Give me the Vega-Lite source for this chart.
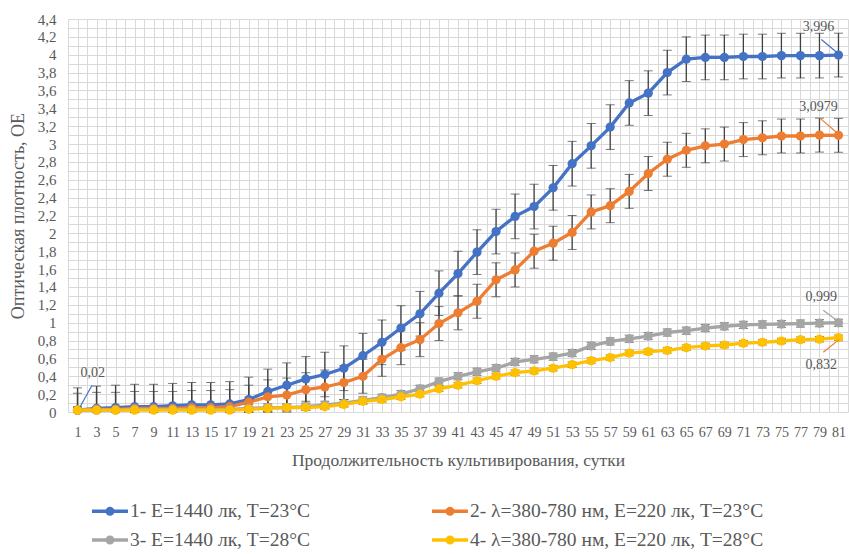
{
  "$schema": "https://vega.github.io/schema/vega-lite/v6.json",
  "autosize": {"type": "none"},
  "padding": {"left": 68, "top": 19, "right": 1, "bottom": 142},
  "width": 780,
  "height": 393,
  "background": "white",
  "config": {
    "font": "Liberation Serif",
    "view": {"stroke": null},
    "style": {"guide-label": {"font": "Liberation Serif"}, "guide-title": {"font": "Liberation Serif"}},
    "axis": {"labelColor": "#595959", "titleColor": "#595959", "titleFontWeight": "normal", "gridColor": "#d9d9d9", "gridWidth": 1, "grid": true, "domain": false, "ticks": false, "tickSize": 0, "labelOverlap": false, "tickCount": 200, "labelFont": "Liberation Serif", "titleFont": "Liberation Serif"},
    "legend": {"labelFont": "Liberation Serif"}
  },
  "datasets": {
    "d": [
      {"x":1,"s":"1- E=1440 лк, T=23°C","v":0.02,"e":0.25},{"x":3,"s":"1- E=1440 лк, T=23°C","v":0.04,"e":0.25},{"x":5,"s":"1- E=1440 лк, T=23°C","v":0.05,"e":0.25},{"x":7,"s":"1- E=1440 лк, T=23°C","v":0.06,"e":0.25},{"x":9,"s":"1- E=1440 лк, T=23°C","v":0.06,"e":0.25},{"x":11,"s":"1- E=1440 лк, T=23°C","v":0.07,"e":0.25},{"x":13,"s":"1- E=1440 лк, T=23°C","v":0.08,"e":0.25},{"x":15,"s":"1- E=1440 лк, T=23°C","v":0.08,"e":0.25},{"x":17,"s":"1- E=1440 лк, T=23°C","v":0.09,"e":0.25},{"x":19,"s":"1- E=1440 лк, T=23°C","v":0.14,"e":0.25},{"x":21,"s":"1- E=1440 лк, T=23°C","v":0.23,"e":0.25},{"x":23,"s":"1- E=1440 лк, T=23°C","v":0.30,"e":0.25},{"x":25,"s":"1- E=1440 лк, T=23°C","v":0.37,"e":0.25},{"x":27,"s":"1- E=1440 лк, T=23°C","v":0.42,"e":0.25},{"x":29,"s":"1- E=1440 лк, T=23°C","v":0.49,"e":0.25},{"x":31,"s":"1- E=1440 лк, T=23°C","v":0.63,"e":0.25},{"x":33,"s":"1- E=1440 лк, T=23°C","v":0.78,"e":0.25},{"x":35,"s":"1- E=1440 лк, T=23°C","v":0.94,"e":0.25},{"x":37,"s":"1- E=1440 лк, T=23°C","v":1.10,"e":0.25},{"x":39,"s":"1- E=1440 лк, T=23°C","v":1.33,"e":0.25},{"x":41,"s":"1- E=1440 лк, T=23°C","v":1.55,"e":0.25},{"x":43,"s":"1- E=1440 лк, T=23°C","v":1.79,"e":0.25},{"x":45,"s":"1- E=1440 лк, T=23°C","v":2.02,"e":0.25},{"x":47,"s":"1- E=1440 лк, T=23°C","v":2.19,"e":0.25},{"x":49,"s":"1- E=1440 лк, T=23°C","v":2.30,"e":0.25},{"x":51,"s":"1- E=1440 лк, T=23°C","v":2.51,"e":0.25},{"x":53,"s":"1- E=1440 лк, T=23°C","v":2.78,"e":0.25},{"x":55,"s":"1- E=1440 лк, T=23°C","v":2.98,"e":0.25},{"x":57,"s":"1- E=1440 лк, T=23°C","v":3.19,"e":0.25},{"x":59,"s":"1- E=1440 лк, T=23°C","v":3.46,"e":0.25},{"x":61,"s":"1- E=1440 лк, T=23°C","v":3.57,"e":0.25},{"x":63,"s":"1- E=1440 лк, T=23°C","v":3.80,"e":0.25},{"x":65,"s":"1- E=1440 лк, T=23°C","v":3.95,"e":0.25},{"x":67,"s":"1- E=1440 лк, T=23°C","v":3.97,"e":0.25},{"x":69,"s":"1- E=1440 лк, T=23°C","v":3.97,"e":0.25},{"x":71,"s":"1- E=1440 лк, T=23°C","v":3.98,"e":0.25},{"x":73,"s":"1- E=1440 лк, T=23°C","v":3.98,"e":0.25},{"x":75,"s":"1- E=1440 лк, T=23°C","v":3.99,"e":0.25},{"x":77,"s":"1- E=1440 лк, T=23°C","v":3.99,"e":0.25},{"x":79,"s":"1- E=1440 лк, T=23°C","v":3.99,"e":0.25},{"x":81,"s":"1- E=1440 лк, T=23°C","v":3.996,"e":0.245},
      {"x":1,"s":"2- λ=380-780 нм, E=220 лк, T=23°C","v":0.02,"e":0.19},{"x":3,"s":"2- λ=380-780 нм, E=220 лк, T=23°C","v":0.03,"e":0.19},{"x":5,"s":"2- λ=380-780 нм, E=220 лк, T=23°C","v":0.03,"e":0.19},{"x":7,"s":"2- λ=380-780 нм, E=220 лк, T=23°C","v":0.04,"e":0.19},{"x":9,"s":"2- λ=380-780 нм, E=220 лк, T=23°C","v":0.04,"e":0.19},{"x":11,"s":"2- λ=380-780 нм, E=220 лк, T=23°C","v":0.04,"e":0.19},{"x":13,"s":"2- λ=380-780 нм, E=220 лк, T=23°C","v":0.05,"e":0.19},{"x":15,"s":"2- λ=380-780 нм, E=220 лк, T=23°C","v":0.05,"e":0.19},{"x":17,"s":"2- λ=380-780 нм, E=220 лк, T=23°C","v":0.06,"e":0.19},{"x":19,"s":"2- λ=380-780 нм, E=220 лк, T=23°C","v":0.11,"e":0.19},{"x":21,"s":"2- λ=380-780 нм, E=220 лк, T=23°C","v":0.17,"e":0.19},{"x":23,"s":"2- λ=380-780 нм, E=220 лк, T=23°C","v":0.19,"e":0.19},{"x":25,"s":"2- λ=380-780 нм, E=220 лк, T=23°C","v":0.25,"e":0.19},{"x":27,"s":"2- λ=380-780 нм, E=220 лк, T=23°C","v":0.28,"e":0.19},{"x":29,"s":"2- λ=380-780 нм, E=220 лк, T=23°C","v":0.33,"e":0.19},{"x":31,"s":"2- λ=380-780 нм, E=220 лк, T=23°C","v":0.40,"e":0.19},{"x":33,"s":"2- λ=380-780 нм, E=220 лк, T=23°C","v":0.59,"e":0.19},{"x":35,"s":"2- λ=380-780 нм, E=220 лк, T=23°C","v":0.72,"e":0.19},{"x":37,"s":"2- λ=380-780 нм, E=220 лк, T=23°C","v":0.81,"e":0.19},{"x":39,"s":"2- λ=380-780 нм, E=220 лк, T=23°C","v":0.99,"e":0.19},{"x":41,"s":"2- λ=380-780 нм, E=220 лк, T=23°C","v":1.11,"e":0.19},{"x":43,"s":"2- λ=380-780 нм, E=220 лк, T=23°C","v":1.24,"e":0.19},{"x":45,"s":"2- λ=380-780 нм, E=220 лк, T=23°C","v":1.48,"e":0.19},{"x":47,"s":"2- λ=380-780 нм, E=220 лк, T=23°C","v":1.59,"e":0.19},{"x":49,"s":"2- λ=380-780 нм, E=220 лк, T=23°C","v":1.80,"e":0.19},{"x":51,"s":"2- λ=380-780 нм, E=220 лк, T=23°C","v":1.89,"e":0.19},{"x":53,"s":"2- λ=380-780 нм, E=220 лк, T=23°C","v":2.01,"e":0.19},{"x":55,"s":"2- λ=380-780 нм, E=220 лк, T=23°C","v":2.24,"e":0.19},{"x":57,"s":"2- λ=380-780 нм, E=220 лк, T=23°C","v":2.31,"e":0.19},{"x":59,"s":"2- λ=380-780 нм, E=220 лк, T=23°C","v":2.47,"e":0.19},{"x":61,"s":"2- λ=380-780 нм, E=220 лк, T=23°C","v":2.67,"e":0.19},{"x":63,"s":"2- λ=380-780 нм, E=220 лк, T=23°C","v":2.83,"e":0.19},{"x":65,"s":"2- λ=380-780 нм, E=220 лк, T=23°C","v":2.93,"e":0.19},{"x":67,"s":"2- λ=380-780 нм, E=220 лк, T=23°C","v":2.98,"e":0.19},{"x":69,"s":"2- λ=380-780 нм, E=220 лк, T=23°C","v":3.00,"e":0.19},{"x":71,"s":"2- λ=380-780 нм, E=220 лк, T=23°C","v":3.05,"e":0.19},{"x":73,"s":"2- λ=380-780 нм, E=220 лк, T=23°C","v":3.07,"e":0.19},{"x":75,"s":"2- λ=380-780 нм, E=220 лк, T=23°C","v":3.09,"e":0.19},{"x":77,"s":"2- λ=380-780 нм, E=220 лк, T=23°C","v":3.09,"e":0.19},{"x":79,"s":"2- λ=380-780 нм, E=220 лк, T=23°C","v":3.10,"e":0.19},{"x":81,"s":"2- λ=380-780 нм, E=220 лк, T=23°C","v":3.0979,"e":0.19},
      {"x":1,"s":"3- E=1440 лк, T=28°C","v":0.02,"e":0.04},{"x":3,"s":"3- E=1440 лк, T=28°C","v":0.02,"e":0.04},{"x":5,"s":"3- E=1440 лк, T=28°C","v":0.02,"e":0.04},{"x":7,"s":"3- E=1440 лк, T=28°C","v":0.03,"e":0.04},{"x":9,"s":"3- E=1440 лк, T=28°C","v":0.03,"e":0.04},{"x":11,"s":"3- E=1440 лк, T=28°C","v":0.03,"e":0.04},{"x":13,"s":"3- E=1440 лк, T=28°C","v":0.03,"e":0.04},{"x":15,"s":"3- E=1440 лк, T=28°C","v":0.03,"e":0.04},{"x":17,"s":"3- E=1440 лк, T=28°C","v":0.03,"e":0.04},{"x":19,"s":"3- E=1440 лк, T=28°C","v":0.04,"e":0.04},{"x":21,"s":"3- E=1440 лк, T=28°C","v":0.05,"e":0.04},{"x":23,"s":"3- E=1440 лк, T=28°C","v":0.05,"e":0.04},{"x":25,"s":"3- E=1440 лк, T=28°C","v":0.06,"e":0.04},{"x":27,"s":"3- E=1440 лк, T=28°C","v":0.08,"e":0.04},{"x":29,"s":"3- E=1440 лк, T=28°C","v":0.10,"e":0.04},{"x":31,"s":"3- E=1440 лк, T=28°C","v":0.13,"e":0.04},{"x":33,"s":"3- E=1440 лк, T=28°C","v":0.16,"e":0.04},{"x":35,"s":"3- E=1440 лк, T=28°C","v":0.20,"e":0.04},{"x":37,"s":"3- E=1440 лк, T=28°C","v":0.26,"e":0.04},{"x":39,"s":"3- E=1440 лк, T=28°C","v":0.34,"e":0.04},{"x":41,"s":"3- E=1440 лк, T=28°C","v":0.40,"e":0.04},{"x":43,"s":"3- E=1440 лк, T=28°C","v":0.45,"e":0.04},{"x":45,"s":"3- E=1440 лк, T=28°C","v":0.49,"e":0.04},{"x":47,"s":"3- E=1440 лк, T=28°C","v":0.56,"e":0.04},{"x":49,"s":"3- E=1440 лк, T=28°C","v":0.59,"e":0.04},{"x":51,"s":"3- E=1440 лк, T=28°C","v":0.62,"e":0.04},{"x":53,"s":"3- E=1440 лк, T=28°C","v":0.66,"e":0.04},{"x":55,"s":"3- E=1440 лк, T=28°C","v":0.74,"e":0.04},{"x":57,"s":"3- E=1440 лк, T=28°C","v":0.79,"e":0.04},{"x":59,"s":"3- E=1440 лк, T=28°C","v":0.82,"e":0.04},{"x":61,"s":"3- E=1440 лк, T=28°C","v":0.85,"e":0.04},{"x":63,"s":"3- E=1440 лк, T=28°C","v":0.89,"e":0.04},{"x":65,"s":"3- E=1440 лк, T=28°C","v":0.91,"e":0.04},{"x":67,"s":"3- E=1440 лк, T=28°C","v":0.94,"e":0.04},{"x":69,"s":"3- E=1440 лк, T=28°C","v":0.96,"e":0.04},{"x":71,"s":"3- E=1440 лк, T=28°C","v":0.975,"e":0.04},{"x":73,"s":"3- E=1440 лк, T=28°C","v":0.98,"e":0.04},{"x":75,"s":"3- E=1440 лк, T=28°C","v":0.985,"e":0.04},{"x":77,"s":"3- E=1440 лк, T=28°C","v":0.99,"e":0.04},{"x":79,"s":"3- E=1440 лк, T=28°C","v":0.995,"e":0.04},{"x":81,"s":"3- E=1440 лк, T=28°C","v":0.999,"e":0.04},
      {"x":1,"s":"4- λ=380-780 нм, E=220 лк, T=28°C","v":0.02,"e":0.03},{"x":3,"s":"4- λ=380-780 нм, E=220 лк, T=28°C","v":0.02,"e":0.03},{"x":5,"s":"4- λ=380-780 нм, E=220 лк, T=28°C","v":0.02,"e":0.03},{"x":7,"s":"4- λ=380-780 нм, E=220 лк, T=28°C","v":0.02,"e":0.03},{"x":9,"s":"4- λ=380-780 нм, E=220 лк, T=28°C","v":0.02,"e":0.03},{"x":11,"s":"4- λ=380-780 нм, E=220 лк, T=28°C","v":0.02,"e":0.03},{"x":13,"s":"4- λ=380-780 нм, E=220 лк, T=28°C","v":0.02,"e":0.03},{"x":15,"s":"4- λ=380-780 нм, E=220 лк, T=28°C","v":0.02,"e":0.03},{"x":17,"s":"4- λ=380-780 нм, E=220 лк, T=28°C","v":0.02,"e":0.03},{"x":19,"s":"4- λ=380-780 нм, E=220 лк, T=28°C","v":0.03,"e":0.03},{"x":21,"s":"4- λ=380-780 нм, E=220 лк, T=28°C","v":0.04,"e":0.03},{"x":23,"s":"4- λ=380-780 нм, E=220 лк, T=28°C","v":0.05,"e":0.03},{"x":25,"s":"4- λ=380-780 нм, E=220 лк, T=28°C","v":0.05,"e":0.03},{"x":27,"s":"4- λ=380-780 нм, E=220 лк, T=28°C","v":0.06,"e":0.03},{"x":29,"s":"4- λ=380-780 нм, E=220 лк, T=28°C","v":0.085,"e":0.03},{"x":31,"s":"4- λ=380-780 нм, E=220 лк, T=28°C","v":0.12,"e":0.03},{"x":33,"s":"4- λ=380-780 нм, E=220 лк, T=28°C","v":0.14,"e":0.03},{"x":35,"s":"4- λ=380-780 нм, E=220 лк, T=28°C","v":0.17,"e":0.03},{"x":37,"s":"4- λ=380-780 нм, E=220 лк, T=28°C","v":0.20,"e":0.03},{"x":39,"s":"4- λ=380-780 нм, E=220 лк, T=28°C","v":0.26,"e":0.03},{"x":41,"s":"4- λ=380-780 нм, E=220 лк, T=28°C","v":0.30,"e":0.03},{"x":43,"s":"4- λ=380-780 нм, E=220 лк, T=28°C","v":0.35,"e":0.03},{"x":45,"s":"4- λ=380-780 нм, E=220 лк, T=28°C","v":0.40,"e":0.03},{"x":47,"s":"4- λ=380-780 нм, E=220 лк, T=28°C","v":0.44,"e":0.03},{"x":49,"s":"4- λ=380-780 нм, E=220 лк, T=28°C","v":0.46,"e":0.03},{"x":51,"s":"4- λ=380-780 нм, E=220 лк, T=28°C","v":0.49,"e":0.03},{"x":53,"s":"4- λ=380-780 нм, E=220 лк, T=28°C","v":0.53,"e":0.03},{"x":55,"s":"4- λ=380-780 нм, E=220 лк, T=28°C","v":0.575,"e":0.03},{"x":57,"s":"4- λ=380-780 нм, E=220 лк, T=28°C","v":0.61,"e":0.03},{"x":59,"s":"4- λ=380-780 нм, E=220 лк, T=28°C","v":0.66,"e":0.03},{"x":61,"s":"4- λ=380-780 нм, E=220 лк, T=28°C","v":0.675,"e":0.03},{"x":63,"s":"4- λ=380-780 нм, E=220 лк, T=28°C","v":0.69,"e":0.03},{"x":65,"s":"4- λ=380-780 нм, E=220 лк, T=28°C","v":0.72,"e":0.03},{"x":67,"s":"4- λ=380-780 нм, E=220 лк, T=28°C","v":0.74,"e":0.03},{"x":69,"s":"4- λ=380-780 нм, E=220 лк, T=28°C","v":0.75,"e":0.03},{"x":71,"s":"4- λ=380-780 нм, E=220 лк, T=28°C","v":0.77,"e":0.03},{"x":73,"s":"4- λ=380-780 нм, E=220 лк, T=28°C","v":0.78,"e":0.03},{"x":75,"s":"4- λ=380-780 нм, E=220 лк, T=28°C","v":0.795,"e":0.03},{"x":77,"s":"4- λ=380-780 нм, E=220 лк, T=28°C","v":0.81,"e":0.03},{"x":79,"s":"4- λ=380-780 нм, E=220 лк, T=28°C","v":0.815,"e":0.03},{"x":81,"s":"4- λ=380-780 нм, E=220 лк, T=28°C","v":0.832,"e":0.03}
    ],
    "labels": [
      {"t":"0,02","tx":2.6,"ty":0.44,"x1":1.26,"y1":0.056,"x2":2.53,"y2":0.30,"s":"1- E=1440 лк, T=23°C"},
      {"t":"3,996","tx":78.9,"ty":4.31,"x1":79.2,"y1":4.17,"x2":80.9,"y2":4.02,"s":"1- E=1440 лк, T=23°C"},
      {"t":"3,0979","tx":78.9,"ty":3.415,"x1":79.05,"y1":3.29,"x2":80.9,"y2":3.12,"s":"2- λ=380-780 нм, E=220 лк, T=23°C"},
      {"t":"0,999","tx":79.2,"ty":1.29,"x1":79.4,"y1":1.14,"x2":80.9,"y2":1.02,"s":"3- E=1440 лк, T=28°C"},
      {"t":"0,832","tx":79.2,"ty":0.526,"x1":79.4,"y1":0.67,"x2":81.05,"y2":0.81,"s":"2- λ=380-780 нм, E=220 лк, T=23°C"}
    ]
  },
  "layer": [
    {
      "data": {"name": "d"},
      "mark": {"type": "line", "strokeWidth": 0, "opacity": 0},
      "encoding": {
        "x": {"field": "x", "type": "quantitative", "scale": {"domain": [0, 82], "nice": false, "zero": false},
          "axis": {"values": [0,1,2,3,4,5,6,7,8,9,10,11,12,13,14,15,16,17,18,19,20,21,22,23,24,25,26,27,28,29,30,31,32,33,34,35,36,37,38,39,40,41,42,43,44,45,46,47,48,49,50,51,52,53,54,55,56,57,58,59,60,61,62,63,64,65,66,67,68,69,70,71,72,73,74,75,76,77,78,79,80,81,82],
            "tickCount": 200, "grid": true, "labelExpr": "datum.value % 2 == 1 ? datum.value : ''", "labelOverlap": false, "labelFontSize": 14, "labelPadding": 13, "labelFlush": false,
            "title": "Продолжительность культивирования, сутки", "titleFontSize": 17.5, "titlePadding": 12}},
        "y": {"field": "v", "type": "quantitative", "scale": {"domain": [0, 4.4], "nice": false, "zero": true, "clamp": true},
          "axis": {"values": [0,0.1,0.2,0.3,0.4,0.5,0.6,0.7,0.8,0.9,1,1.1,1.2,1.3,1.4,1.5,1.6,1.7,1.8,1.9,2,2.1,2.2,2.3,2.4,2.5,2.6,2.7,2.8,2.9,3,3.1,3.2,3.3,3.4,3.5,3.6,3.7,3.8,3.9,4,4.1,4.2,4.3,4.4],
            "tickCount": 200, "grid": true, "labelExpr": "round(datum.value*10) % 2 == 0 ? replace(format(datum.value, '~g'), '.', ',') : ''", "labelOverlap": false, "labelFontSize": 15, "labelPadding": 12, "labelFlush": false,
            "title": "Оптическая плотность, ОЕ", "titleFontSize": 18, "titlePadding": 10}},
        "detail": {"field": "s"}
      }
    },
    {
      "data": {"name": "d"},
      "mark": {"type": "errorbar", "ticks": {"size": 9}, "rule": {"strokeWidth": 1.3}, "color": "#404040"},
      "encoding": {
        "x": {"field": "x", "type": "quantitative", "title": "Продолжительность культивирования, сутки"},
        "y": {"field": "v", "type": "quantitative", "title": "Оптическая плотность, ОЕ"},
        "yError": {"field": "e"},
        "detail": {"field": "s"}
      }
    },
    {
      "data": {"name": "d"},
      "mark": {"type": "line", "strokeWidth": 3.3},
      "encoding": {
        "x": {"field": "x", "type": "quantitative"},
        "y": {"field": "v", "type": "quantitative"},
        "color": {"field": "s", "type": "nominal",
          "scale": {"domain": ["1- E=1440 лк, T=23°C", "2- λ=380-780 нм, E=220 лк, T=23°C", "3- E=1440 лк, T=28°C", "4- λ=380-780 нм, E=220 лк, T=28°C"], "range": ["#4472C4", "#ED7D31", "#A5A5A5", "#FFC000"]},
          "legend": {"labelFont": "Liberation Serif", "labelFontSize": 19.5}}
      }
    },
    {
      "data": {"name": "d"},
      "mark": {"type": "point", "filled": true, "size": 85, "opacity": 1},
      "encoding": {
        "x": {"field": "x", "type": "quantitative"},
        "y": {"field": "v", "type": "quantitative"},
        "color": {"field": "s", "type": "nominal",
          "legend": {"title": null, "orient": "none", "direction": "horizontal", "legendX": 32, "legendY": 482, "columns": 2, "columnPadding": 121, "rowPadding": 9,
            "symbolType": "M-1.8,-0.17H1.8V0.17H-1.8Z M0.45,0 A0.45,0.45 0 1,1 -0.45,0 A0.45,0.45 0 1,1 0.45,0 Z",
            "symbolSize": 400, "symbolStrokeWidth": 0, "symbolOpacity": 1, "labelOffset": 10, "labelFont": "Liberation Serif", "labelFontSize": 19.5, "labelColor": "#595959", "labelLimit": 500}}
      }
    },
    {
      "data": {"name": "labels"},
      "mark": {"type": "rule", "strokeWidth": 1.2},
      "encoding": {
        "x": {"field": "x1", "type": "quantitative"},
        "y": {"field": "y1", "type": "quantitative"},
        "x2": {"field": "x2"},
        "y2": {"field": "y2"},
        "color": {"field": "s", "type": "nominal", "legend": {"labelFont": "Liberation Serif", "labelFontSize": 19.5}}
      }
    },
    {
      "data": {"name": "labels"},
      "mark": {"type": "text", "fontSize": 14, "color": "#595959", "align": "center", "baseline": "middle"},
      "encoding": {
        "x": {"field": "tx", "type": "quantitative"},
        "y": {"field": "ty", "type": "quantitative"},
        "text": {"field": "t"}
      }
    }
  ]
}
